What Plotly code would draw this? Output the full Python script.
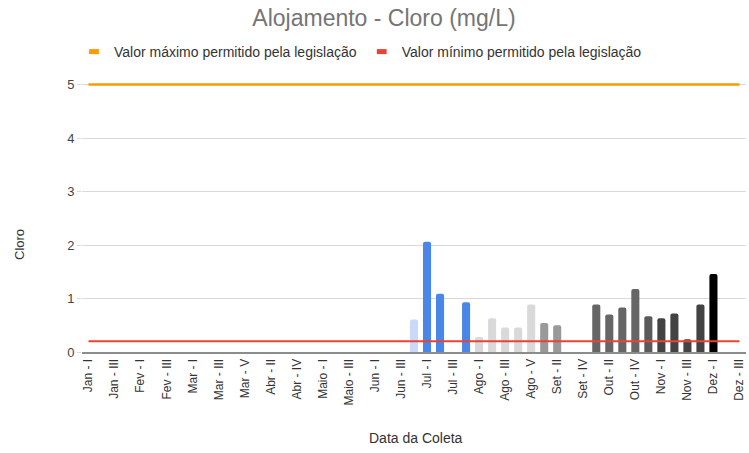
import plotly.graph_objects as go

categorias = [
    "Jan - I", "Jan - II", "Jan - III", "Jan - IV",
    "Fev - I", "Fev - II", "Fev - III", "Fev - IV",
    "Mar - I", "Mar - II", "Mar - III", "Mar - IV", "Mar - V",
    "Abr - I", "Abr - II", "Abr - III", "Abr - IV", "Abr - V",
    "Maio - I", "Maio - II", "Maio - III", "Maio - IV",
    "Jun - I", "Jun - II", "Jun - III", "Jun - IV",
    "Jul - I", "Jul - II", "Jul - III", "Jul - IV",
    "Ago - I", "Ago - II", "Ago - III", "Ago - IV", "Ago - V",
    "Set - I", "Set - II", "Set - III", "Set - IV",
    "Out - I", "Out - II", "Out - III", "Out - IV", "Out - V",
    "Nov - I", "Nov - II", "Nov - III", "Nov - IV",
    "Dez - I", "Dez - II", "Dez - III",
]

medidas_cat = [
    "Jun - IV", "Jul - I", "Jul - II", "Jul - IV",
    "Ago - I", "Ago - II", "Ago - III", "Ago - IV", "Ago - V",
    "Set - I", "Set - II",
    "Out - I", "Out - II", "Out - III", "Out - IV", "Out - V",
    "Nov - I", "Nov - II", "Nov - III", "Nov - IV",
    "Dez - I",
]
cloro = [
    0.61, 2.06, 1.09, 0.93,
    0.28, 0.63, 0.46, 0.46, 0.89,
    0.54, 0.50,
    0.89, 0.70, 0.83, 1.18, 0.67,
    0.63, 0.72, 0.24, 0.89,
    1.46,
]
cores = [
    "#c9daf8", "#4a86e8", "#4a86e8", "#4a86e8",
    "#d9d9d9", "#d9d9d9", "#d9d9d9", "#d9d9d9", "#d9d9d9",
    "#999999", "#999999",
    "#666666", "#666666", "#666666", "#666666", "#5a5a5a",
    "#434343", "#434343", "#434343", "#434343",
    "#000000",
]

rotulos_eixo = categorias[::2]
limite_max = 5
limite_min = 0.2

fig = go.Figure()

fig.add_trace(go.Bar(
    x=medidas_cat, y=cloro, marker=dict(color=cores, line=dict(width=0)),
    showlegend=False, hoverinfo="x+y",
))

fig.add_trace(go.Scatter(
    x=[categorias[0], categorias[-1]], y=[limite_max, limite_max], mode="lines",
    line=dict(color="#ff9900", width=2.5), showlegend=False,
))
fig.add_trace(go.Scatter(
    x=[categorias[0], categorias[-1]], y=[limite_min, limite_min], mode="lines",
    line=dict(color="#ea4335", width=2), showlegend=False,
))

# legend entries
fig.add_trace(go.Scatter(
    x=[None], y=[None], mode="markers", name="Valor máximo permitido pela legislação",
    marker=dict(symbol="line-ew-open", size=7, color="#ff9900", line=dict(color="#ff9900", width=5)),
))
fig.add_trace(go.Scatter(
    x=[None], y=[None], mode="markers", name="Valor mínimo permitido pela legislação",
    marker=dict(symbol="line-ew-open", size=7, color="#ea4335", line=dict(color="#ea4335", width=5)),
))

L, R, T, B = 82, 3, 83, 101
W, H = 749, 453
pw, ph = W - L - R, H - T - B

fig.update_layout(
    width=W, height=H,
    margin=dict(l=L, r=R, t=T, b=B, autoexpand=False),
    paper_bgcolor="white", plot_bgcolor="white",
    font=dict(family="Liberation Sans, Arial, sans-serif", color="#333333", size=11),
    title=dict(text="Alojamento - Cloro (mg/L)", xref="container", x=384 / W, xanchor="center",
               yref="container", y=1 - 18 / H, yanchor="middle",
               font=dict(size=23, color="#757575")),
    bargap=0.38,
    barcornerradius=2,
    legend=dict(orientation="h", x=(74 - L) / pw, xanchor="left", y=(H - 52 - B) / ph, yanchor="middle",
                font=dict(size=14, color="#333333"), itemwidth=30, tracegroupgap=0,
                bgcolor="rgba(0,0,0,0)"),
    xaxis=dict(
        type="category", categoryorder="array", categoryarray=categorias,
        range=[-0.5, len(categorias) - 0.5], automargin=False,
        tickmode="array", tickvals=rotulos_eixo, ticktext=rotulos_eixo,
        tickangle=-90, tickfont=dict(size=12, color="#333333"),
        showgrid=False, showline=True, linecolor="#8c8c8c", linewidth=2,
        ticks="",
    ),
    yaxis=dict(
        range=[0, 5.03], tickvals=[0, 1, 2, 3, 4, 5], automargin=False,
        showgrid=True, gridcolor="#d9d9d9", gridwidth=1, zeroline=False,
        ticks="outside", ticklen=4, tickcolor="#d9d9d9",
        tickfont=dict(size=13, color="#444444"),
    ),
    annotations=[
        dict(text="Cloro", xref="paper", yref="paper", x=(20 - L) / pw, y=(H - 245 - B) / ph,
             xanchor="center", yanchor="middle", textangle=-90, showarrow=False,
             font=dict(size=13, color="#333333")),
        dict(text="Data da Coleta", xref="paper", yref="paper", x=(416 - L) / pw, y=(H - 438 - B) / ph,
             xanchor="center", yanchor="middle", showarrow=False,
             font=dict(size=14, color="#333333")),
    ],
)

fig.write_html("out.html", config={"displayModeBar": False},
               post_script="document.body.style.margin='0px';document.body.style.padding='0px';")
